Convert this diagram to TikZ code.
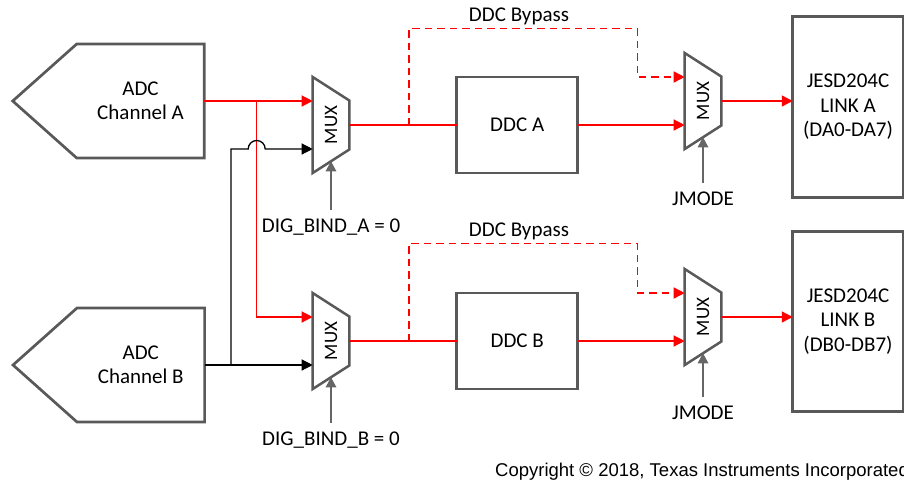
\documentclass[tikz,border=0pt]{standalone}
\usepackage{fontspec}
\setmainfont{Carlito}
\newfontfamily\notefont{Liberation Sans}
\usepackage{xcolor}
\usetikzlibrary{arrows.meta,positioning}
\definecolor{boxgray}{HTML}{595959}
\definecolor{ctrlgray}{HTML}{666666}

\begin{document}
\begin{tikzpicture}[
  x=1pt,y=-1pt,
  font=\fontsize{21}{24.5}\selectfont,
  sig/.style={draw=red,line width=1.3pt},
  sig arrow/.style={sig,-{Triangle[length=11pt,width=11pt]}},
  bypass/.style={sig arrow,line width=1.5pt,dash pattern=on 7.5pt off 5pt},
  wire arrow/.style={draw=black,line width=1.3pt,-{Triangle[length=11pt,width=11pt]}},
  ctrl/.style={draw=ctrlgray,line width=1.2pt,-{Triangle[length=10pt,width=10.5pt]}},
  box line/.style={draw=boxgray,line width=2.7pt,line join=miter},
  adc/.style={align=center,inner sep=0pt,outer sep=0pt,
    minimum width=127.6pt,minimum height=114pt},
  ddc/.style={box line,align=center,outer sep=0pt,
    minimum width=121pt,minimum height=96pt},
  link box/.style={box line,align=center,outer sep=0pt,
    minimum width=110.5pt,minimum height=180.5pt},
  ctrl label/.style={anchor=base,inner xsep=2pt,inner ysep=8pt},
  bypass label/.style={anchor=base,inner sep=1pt},
  note text/.style={anchor=base west,inner sep=0pt,
    font=\notefont\fontsize{18.5}{22}\selectfont},
  mux border/.style={draw=boxgray,line width=2.5pt,line join=miter},
  mux/.pic={
    \draw[mux border] (-18.3,-48) -- (18.3,-24.5) -- (18.3,24.5)
      -- (-18.3,48) -- cycle;
    \node[rotate=90,inner sep=0pt,font=\fontsize{19}{22}\selectfont] (-text) {MUX};
    \coordinate (-in1) at (-18.3,-24);
    \coordinate (-in2) at (-18.3,24);
    \coordinate (-out) at (18.3,0);
    \coordinate (-sel) at (0,36.25);
  }
]
\useasboundingbox (0,0) rectangle (904,480);

% Channel A — converter, input mux, DDC, output mux and link.
\node[adc] (adc-a) at (140.5,101) {ADC\\Channel A};
\draw[box line] (adc-a.north west) -- (adc-a.north east) -- (adc-a.south east)
  -- (adc-a.south west) -- ([xshift=-64pt]adc-a.west) -- cycle;
\pic (mux-a1) at (331,125) {mux};
\node[ddc] (ddc-a) at (517.2,125) {DDC A};
\pic (mux-a2) at (703,101) {mux};
\node[link box] (jesd-a) at (848,107) {JESD204C\\LINK A\\(DA0-DA7)};

% Channel B — same chain one row down.
\node[adc] (adc-b) at (140.8,365) {ADC\\Channel B};
\draw[box line] (adc-b.north west) -- (adc-b.north east) -- (adc-b.south east)
  -- (adc-b.south west) -- ([xshift=-64pt]adc-b.west) -- cycle;
\pic (mux-b1) at (331,341) {mux};
\node[ddc] (ddc-b) at (517.2,341) {DDC B};
\pic (mux-b2) at (703,317) {mux};
\node[link box] (jesd-b) at (848,321.4) {JESD204C\\LINK B\\(DB0-DB7)};

% Branch points on the signal lines.
\coordinate (split-a) at (256.7,101);
\coordinate (split-b) at (231,365);
\coordinate (tap-a) at (409,125);
\coordinate (tap-b) at (409,341);
\coordinate (turn-a) at (637.3,28.3);
\coordinate (turn-b) at (637.3,243.3);

% Cross-connection of the two converters into the input muxes.
\draw[sig arrow] (adc-a.east) -- (mux-a1-in1);
\draw[sig arrow] (split-a) |- (mux-b1-in1);
\draw[wire arrow] (adc-b.east) -- (mux-b1-in2);
\draw[wire arrow] (split-b) |- ([xshift=-8.5pt]split-a |- mux-a1-in2)
  arc[start angle=180,end angle=0,radius=8.5pt] -- (mux-a1-in2);

% Data path through the DDCs.
\draw[sig] (mux-a1-out) -- (ddc-a.west);
\draw[sig arrow] (ddc-a.east) -- (mux-a2-in2);
\draw[sig arrow] (mux-a2-out) -- (mux-a2-out -| jesd-a.west);
\draw[sig] (mux-b1-out) -- (ddc-b.west);
\draw[sig arrow] (ddc-b.east) -- (mux-b2-in2);
\draw[sig arrow] (mux-b2-out) -- (mux-b2-out -| jesd-b.west);

% Bypass around each DDC.
\draw[bypass] (tap-a) |- (turn-a) |- (mux-a2-in1);
\draw[bypass] (tap-b) |- (turn-b) |- (mux-b2-in1);
\node[bypass label] (bypass-a) at (519,21.7) {DDC Bypass};
\node[bypass label] (bypass-b) at (519,236.7) {DDC Bypass};

% Mux select inputs.
\node[ctrl label] (dig-a) at (331,232.3) {DIG\_BIND\_A = 0};
\node[ctrl label] (dig-b) at (331,445) {DIG\_BIND\_B = 0};
\node[ctrl label] (jmode-a) at (703,205) {JMODE};
\node[ctrl label] (jmode-b) at (703,419) {JMODE};
\draw[ctrl] (dig-a.north) -- (mux-a1-sel);
\draw[ctrl] (dig-b.north) -- (mux-b1-sel);
\draw[ctrl] (jmode-a.north) -- (mux-a2-sel);
\draw[ctrl] (jmode-b.north) -- (mux-b2-sel);

\node[note text] (copyright) at (495,476.7) {Copyright © 2018, Texas Instruments Incorporated};

\end{tikzpicture}
\end{document}
